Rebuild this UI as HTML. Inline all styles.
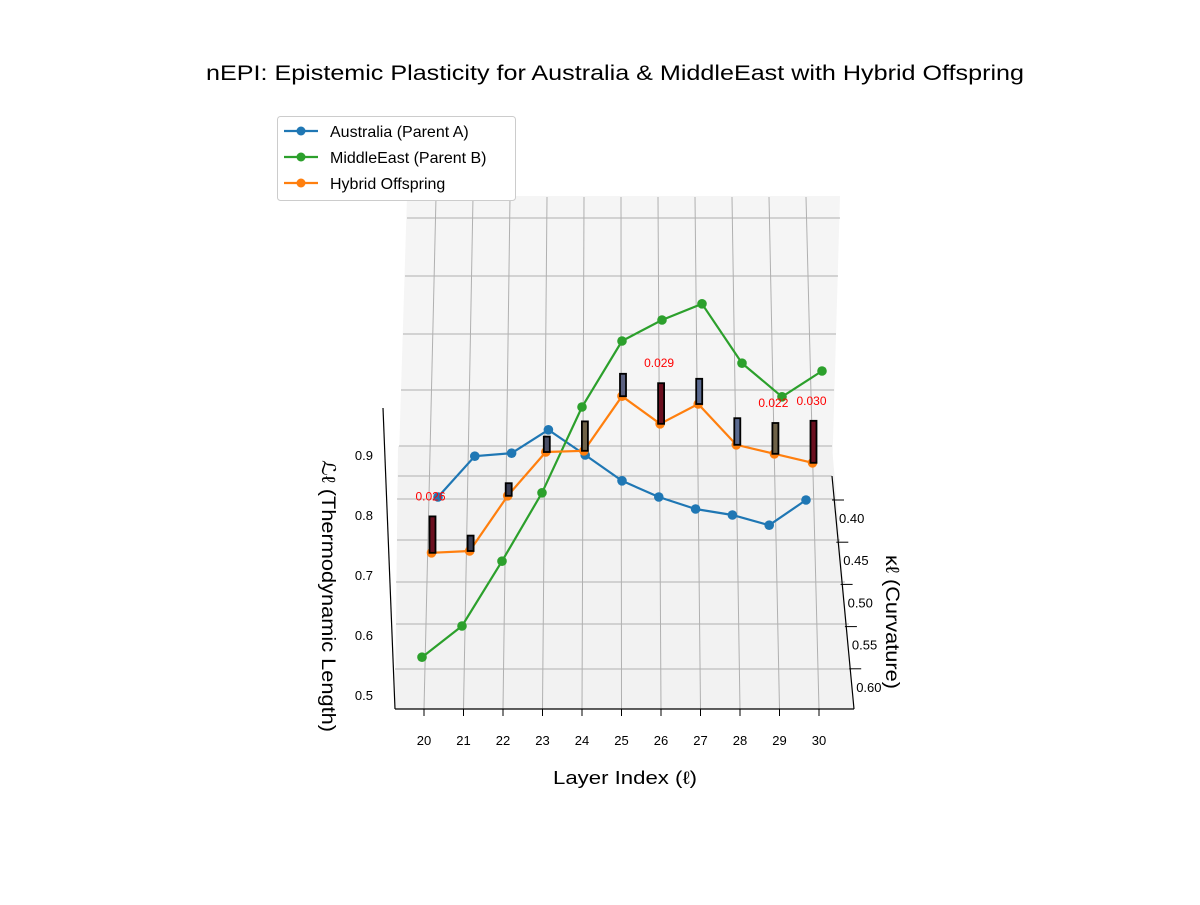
<!DOCTYPE html>
<html><head><meta charset="utf-8"><style>
body{margin:0;background:#fff;}
svg text{font-family:"Liberation Sans","DejaVu Sans",sans-serif;}
</style></head><body>
<svg id="chart" width="1200" height="900" xmlns="http://www.w3.org/2000/svg">
<rect width="1200" height="900" fill="#fff"/>
<text x="615" y="80" font-size="21" text-anchor="middle" textLength="818" lengthAdjust="spacingAndGlyphs">nEPI: Epistemic Plasticity for Australia &amp; MiddleEast with Hybrid Offspring</text>
<g id="panes">
<polygon points="407,196 840,196 832,476 398,488" fill="#f5f5f5"/>
<polygon points="398,446 832,446 854,709 395,709" fill="#f2f2f2"/>
</g>
<g id="grid"></g>
<g id="axes"></g>
<g id="marks"></g>
<g>
<rect x="277.5" y="116.5" width="238" height="84" rx="3" fill="#fff" stroke="#ccc"/>
<g><line x1="284" y1="131" x2="318" y2="131" stroke="#1f77b4" stroke-width="2.2"/><circle cx="301" cy="131" r="4.5" fill="#1f77b4"/><text x="330" y="137" font-size="16">Australia (Parent A)</text></g>
<g><line x1="284" y1="157" x2="318" y2="157" stroke="#2ca02c" stroke-width="2.2"/><circle cx="301" cy="157" r="4.5" fill="#2ca02c"/><text x="330" y="163" font-size="16">MiddleEast (Parent B)</text></g>
<g><line x1="284" y1="183" x2="318" y2="183" stroke="#ff7f0e" stroke-width="2.2"/><circle cx="301" cy="183" r="4.5" fill="#ff7f0e"/><text x="330" y="189" font-size="16">Hybrid Offspring</text></g>
</g>
<text x="625" y="784" font-size="18" text-anchor="middle" textLength="144" lengthAdjust="spacingAndGlyphs">Layer Index (ℓ)</text>
<text transform="translate(322,596) rotate(90)" font-size="19" text-anchor="middle" textLength="272" lengthAdjust="spacingAndGlyphs">ℒℓ (Thermodynamic Length)</text>
<text transform="translate(886,622) rotate(90)" font-size="19" text-anchor="middle" textLength="134" lengthAdjust="spacingAndGlyphs">κℓ (Curvature)</text>
</svg>
<script>
const layers=[20,21,22,23,24,25,26,27,28,29,30];
const australia=[0.830,0.898,0.903,0.942,0.900,0.857,0.830,0.810,0.800,0.783,0.825];
const middleEast=[0.563,0.615,0.723,0.837,0.980,1.090,1.125,1.152,1.053,0.997,1.040];
const hybrid=[0.737,0.740,0.832,0.905,0.907,0.998,0.952,0.985,0.917,0.902,0.887];
const deltas=[0.026,0.011,0.009,0.011,0.021,0.016,0.029,0.018,0.019,0.022,0.030];
const deltaLabels=["0.026","","","","","","0.029","","","0.022","0.030"];
const barColors=["#6b0f1f","#3a3f55","#3a3f55","#4a4f66","#6e6248","#5a6080","#6b0f1f","#5a6a90","#5a6a90","#6e6248","#6b0f1f"];
const lTicks=[0.5,0.6,0.7,0.8,0.9];
const kTicks=["0.40","0.45","0.50","0.55","0.60"];
const NS="http://www.w3.org/2000/svg";
function el(t,a,p){const e=document.createElementNS(NS,t);for(const k in a)e.setAttribute(k,a[k]);p.appendChild(e);return e;}
function xs(layer,scale,off){return 622+(off||0)+(layer-25)*scale;}
function ys(v){return 695-(v-0.5)*600;}
function bh(d){return d*1400;}
const grid=document.getElementById('grid'),axes=document.getElementById('axes'),marks=document.getElementById('marks');
[[218,407,840],[276,405,838],[334,403,836],[390,401,834],[446,399,832],[476,398,832],[499,397,835],[540,397,840],[582,396,845],[624,396,849],[669,395,852]].forEach(r=>{
 const l=el('line',{x1:r[1],y1:r[0],x2:r[2],y2:r[0],stroke:'#b0b0b0','stroke-width':1},grid);
 
});
layers.forEach((L,i)=>{
 const l=el('line',{x1:436+(L-20)*37,y1:197,x2:424+(L-20)*39.5,y2:709,stroke:'#b0b0b0','stroke-width':1},grid);
 
});
let a=el('line',{x1:383,y1:408,x2:395,y2:709,stroke:'#000','stroke-width':1.2},axes);

a=el('line',{x1:395,y1:709,x2:854,y2:709,stroke:'#000','stroke-width':1.2},axes);

a=el('line',{x1:832,y1:476,x2:854,y2:709,stroke:'#000','stroke-width':1.2},axes);

layers.forEach(L=>{
 const x=424+(L-20)*39.5;
 el('line',{x1:x,y1:709,x2:x,y2:716,stroke:'#000'},axes);
 const t=el('text',{x:x,y:745,'font-size':13,'text-anchor':'middle'},axes);t.textContent=L;
 
});
lTicks.forEach(v=>{
 const t=el('text',{x:373,y:ys(v)+5,'font-size':13,'text-anchor':'end'},axes);t.textContent=v.toFixed(1);
 
});
kTicks.forEach((s,i)=>{
 const y=500+i*42.2,x=834+i*4.3;
 el('line',{x1:x-2,y1:y,x2:x+10,y2:y,stroke:'#000'},axes);
 const t=el('text',{x:x+5,y:y+23,'font-size':13},axes);t.textContent=s;
 
});
function series(vals,color,scale,off,name){
 const pts=vals.map((v,i)=>[xs(layers[i],scale,off),ys(v)]);
 const p=el('polyline',{points:pts.map(q=>q.join(',')).join(' '),fill:'none',stroke:color,'stroke-width':2.2},marks);
 
 pts.forEach(q=>{const c=el('circle',{cx:q[0],cy:q[1],r:4.8,fill:color},marks);
  });
 return pts;
}
series(australia,'#1f77b4',36.8,0,'australia');
series(middleEast,'#2ca02c',40,0,'middleeast');
const hp=series(hybrid,'#ff7f0e',38.1,0,'hybrid');
hp.forEach((q,i)=>{
 const h=bh(deltas[i]);
 const r=el('rect',{x:q[0]-2,y:q[1]-h,width:6,height:h,fill:barColors[i],stroke:'#000','stroke-width':1.8},marks);
 
 if(deltaLabels[i]){const t=el('text',{x:q[0]-1,y:q[1]-h-16,'font-size':12,fill:'red','text-anchor':'middle'},marks);t.textContent=deltaLabels[i];
 }
});
</script>
</body></html>
